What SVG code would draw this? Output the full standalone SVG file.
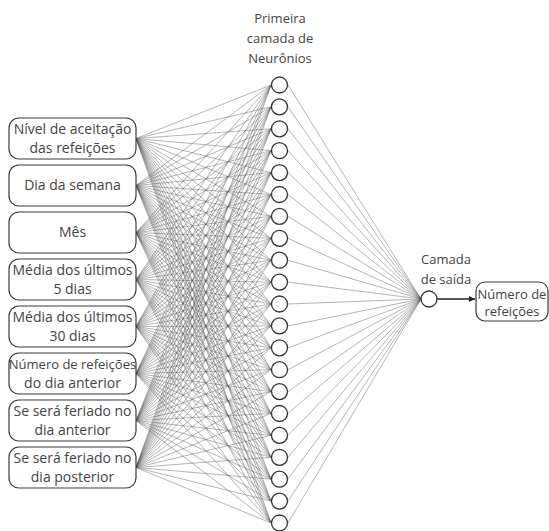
<svg xmlns="http://www.w3.org/2000/svg" width="549" height="531" viewBox="0 0 549 531">
<defs>
<style>
.box{fill:#fff;stroke:#3a3a3a;stroke-width:1.2}
.neu{fill:#fff;stroke:#333;stroke-width:1.3}
.t{font-family:"Open Sans","Noto Sans",sans-serif;font-size:13px;fill:#444;text-anchor:middle}
.b{font-size:14px}
.c line{stroke:#5a5a5a;stroke-width:0.45}
</style>
<marker id="ah" viewBox="0 0 10 10" refX="10" refY="5" markerWidth="8" markerHeight="6" markerUnits="userSpaceOnUse" orient="auto"><path d="M0,0 L10,5 L0,10 z" fill="#222"/></marker>
</defs>
<rect width="549" height="531" fill="#fff"/>
<g id="connectors" class="c">
<line x1="136" y1="138.5" x2="271" y2="85"/><line x1="136" y1="138.5" x2="271" y2="106.9"/><line x1="136" y1="138.5" x2="271" y2="128.8"/><line x1="136" y1="138.5" x2="271" y2="150.7"/><line x1="136" y1="138.5" x2="271" y2="172.6"/><line x1="136" y1="138.5" x2="271" y2="194.5"/><line x1="136" y1="138.5" x2="271" y2="216.4"/><line x1="136" y1="138.5" x2="271" y2="238.3"/><line x1="136" y1="138.5" x2="271" y2="260.2"/><line x1="136" y1="138.5" x2="271" y2="282.1"/><line x1="136" y1="138.5" x2="271" y2="304"/><line x1="136" y1="138.5" x2="271" y2="325.9"/><line x1="136" y1="138.5" x2="271" y2="347.8"/><line x1="136" y1="138.5" x2="271" y2="369.7"/><line x1="136" y1="138.5" x2="271" y2="391.6"/><line x1="136" y1="138.5" x2="271" y2="413.5"/><line x1="136" y1="138.5" x2="271" y2="435.4"/><line x1="136" y1="138.5" x2="271" y2="457.3"/><line x1="136" y1="138.5" x2="271" y2="479.2"/><line x1="136" y1="138.5" x2="271" y2="501.1"/><line x1="136" y1="138.5" x2="271" y2="523"/>
<line x1="136" y1="185.5" x2="271" y2="85"/><line x1="136" y1="185.5" x2="271" y2="106.9"/><line x1="136" y1="185.5" x2="271" y2="128.8"/><line x1="136" y1="185.5" x2="271" y2="150.7"/><line x1="136" y1="185.5" x2="271" y2="172.6"/><line x1="136" y1="185.5" x2="271" y2="194.5"/><line x1="136" y1="185.5" x2="271" y2="216.4"/><line x1="136" y1="185.5" x2="271" y2="238.3"/><line x1="136" y1="185.5" x2="271" y2="260.2"/><line x1="136" y1="185.5" x2="271" y2="282.1"/><line x1="136" y1="185.5" x2="271" y2="304"/><line x1="136" y1="185.5" x2="271" y2="325.9"/><line x1="136" y1="185.5" x2="271" y2="347.8"/><line x1="136" y1="185.5" x2="271" y2="369.7"/><line x1="136" y1="185.5" x2="271" y2="391.6"/><line x1="136" y1="185.5" x2="271" y2="413.5"/><line x1="136" y1="185.5" x2="271" y2="435.4"/><line x1="136" y1="185.5" x2="271" y2="457.3"/><line x1="136" y1="185.5" x2="271" y2="479.2"/><line x1="136" y1="185.5" x2="271" y2="501.1"/><line x1="136" y1="185.5" x2="271" y2="523"/>
<line x1="136" y1="232.5" x2="271" y2="85"/><line x1="136" y1="232.5" x2="271" y2="106.9"/><line x1="136" y1="232.5" x2="271" y2="128.8"/><line x1="136" y1="232.5" x2="271" y2="150.7"/><line x1="136" y1="232.5" x2="271" y2="172.6"/><line x1="136" y1="232.5" x2="271" y2="194.5"/><line x1="136" y1="232.5" x2="271" y2="216.4"/><line x1="136" y1="232.5" x2="271" y2="238.3"/><line x1="136" y1="232.5" x2="271" y2="260.2"/><line x1="136" y1="232.5" x2="271" y2="282.1"/><line x1="136" y1="232.5" x2="271" y2="304"/><line x1="136" y1="232.5" x2="271" y2="325.9"/><line x1="136" y1="232.5" x2="271" y2="347.8"/><line x1="136" y1="232.5" x2="271" y2="369.7"/><line x1="136" y1="232.5" x2="271" y2="391.6"/><line x1="136" y1="232.5" x2="271" y2="413.5"/><line x1="136" y1="232.5" x2="271" y2="435.4"/><line x1="136" y1="232.5" x2="271" y2="457.3"/><line x1="136" y1="232.5" x2="271" y2="479.2"/><line x1="136" y1="232.5" x2="271" y2="501.1"/><line x1="136" y1="232.5" x2="271" y2="523"/>
<line x1="136" y1="279.5" x2="271" y2="85"/><line x1="136" y1="279.5" x2="271" y2="106.9"/><line x1="136" y1="279.5" x2="271" y2="128.8"/><line x1="136" y1="279.5" x2="271" y2="150.7"/><line x1="136" y1="279.5" x2="271" y2="172.6"/><line x1="136" y1="279.5" x2="271" y2="194.5"/><line x1="136" y1="279.5" x2="271" y2="216.4"/><line x1="136" y1="279.5" x2="271" y2="238.3"/><line x1="136" y1="279.5" x2="271" y2="260.2"/><line x1="136" y1="279.5" x2="271" y2="282.1"/><line x1="136" y1="279.5" x2="271" y2="304"/><line x1="136" y1="279.5" x2="271" y2="325.9"/><line x1="136" y1="279.5" x2="271" y2="347.8"/><line x1="136" y1="279.5" x2="271" y2="369.7"/><line x1="136" y1="279.5" x2="271" y2="391.6"/><line x1="136" y1="279.5" x2="271" y2="413.5"/><line x1="136" y1="279.5" x2="271" y2="435.4"/><line x1="136" y1="279.5" x2="271" y2="457.3"/><line x1="136" y1="279.5" x2="271" y2="479.2"/><line x1="136" y1="279.5" x2="271" y2="501.1"/><line x1="136" y1="279.5" x2="271" y2="523"/>
<line x1="136" y1="326.5" x2="271" y2="85"/><line x1="136" y1="326.5" x2="271" y2="106.9"/><line x1="136" y1="326.5" x2="271" y2="128.8"/><line x1="136" y1="326.5" x2="271" y2="150.7"/><line x1="136" y1="326.5" x2="271" y2="172.6"/><line x1="136" y1="326.5" x2="271" y2="194.5"/><line x1="136" y1="326.5" x2="271" y2="216.4"/><line x1="136" y1="326.5" x2="271" y2="238.3"/><line x1="136" y1="326.5" x2="271" y2="260.2"/><line x1="136" y1="326.5" x2="271" y2="282.1"/><line x1="136" y1="326.5" x2="271" y2="304"/><line x1="136" y1="326.5" x2="271" y2="325.9"/><line x1="136" y1="326.5" x2="271" y2="347.8"/><line x1="136" y1="326.5" x2="271" y2="369.7"/><line x1="136" y1="326.5" x2="271" y2="391.6"/><line x1="136" y1="326.5" x2="271" y2="413.5"/><line x1="136" y1="326.5" x2="271" y2="435.4"/><line x1="136" y1="326.5" x2="271" y2="457.3"/><line x1="136" y1="326.5" x2="271" y2="479.2"/><line x1="136" y1="326.5" x2="271" y2="501.1"/><line x1="136" y1="326.5" x2="271" y2="523"/>
<line x1="136" y1="373.5" x2="271" y2="85"/><line x1="136" y1="373.5" x2="271" y2="106.9"/><line x1="136" y1="373.5" x2="271" y2="128.8"/><line x1="136" y1="373.5" x2="271" y2="150.7"/><line x1="136" y1="373.5" x2="271" y2="172.6"/><line x1="136" y1="373.5" x2="271" y2="194.5"/><line x1="136" y1="373.5" x2="271" y2="216.4"/><line x1="136" y1="373.5" x2="271" y2="238.3"/><line x1="136" y1="373.5" x2="271" y2="260.2"/><line x1="136" y1="373.5" x2="271" y2="282.1"/><line x1="136" y1="373.5" x2="271" y2="304"/><line x1="136" y1="373.5" x2="271" y2="325.9"/><line x1="136" y1="373.5" x2="271" y2="347.8"/><line x1="136" y1="373.5" x2="271" y2="369.7"/><line x1="136" y1="373.5" x2="271" y2="391.6"/><line x1="136" y1="373.5" x2="271" y2="413.5"/><line x1="136" y1="373.5" x2="271" y2="435.4"/><line x1="136" y1="373.5" x2="271" y2="457.3"/><line x1="136" y1="373.5" x2="271" y2="479.2"/><line x1="136" y1="373.5" x2="271" y2="501.1"/><line x1="136" y1="373.5" x2="271" y2="523"/>
<line x1="136" y1="420.5" x2="271" y2="85"/><line x1="136" y1="420.5" x2="271" y2="106.9"/><line x1="136" y1="420.5" x2="271" y2="128.8"/><line x1="136" y1="420.5" x2="271" y2="150.7"/><line x1="136" y1="420.5" x2="271" y2="172.6"/><line x1="136" y1="420.5" x2="271" y2="194.5"/><line x1="136" y1="420.5" x2="271" y2="216.4"/><line x1="136" y1="420.5" x2="271" y2="238.3"/><line x1="136" y1="420.5" x2="271" y2="260.2"/><line x1="136" y1="420.5" x2="271" y2="282.1"/><line x1="136" y1="420.5" x2="271" y2="304"/><line x1="136" y1="420.5" x2="271" y2="325.9"/><line x1="136" y1="420.5" x2="271" y2="347.8"/><line x1="136" y1="420.5" x2="271" y2="369.7"/><line x1="136" y1="420.5" x2="271" y2="391.6"/><line x1="136" y1="420.5" x2="271" y2="413.5"/><line x1="136" y1="420.5" x2="271" y2="435.4"/><line x1="136" y1="420.5" x2="271" y2="457.3"/><line x1="136" y1="420.5" x2="271" y2="479.2"/><line x1="136" y1="420.5" x2="271" y2="501.1"/><line x1="136" y1="420.5" x2="271" y2="523"/>
<line x1="136" y1="467.5" x2="271" y2="85"/><line x1="136" y1="467.5" x2="271" y2="106.9"/><line x1="136" y1="467.5" x2="271" y2="128.8"/><line x1="136" y1="467.5" x2="271" y2="150.7"/><line x1="136" y1="467.5" x2="271" y2="172.6"/><line x1="136" y1="467.5" x2="271" y2="194.5"/><line x1="136" y1="467.5" x2="271" y2="216.4"/><line x1="136" y1="467.5" x2="271" y2="238.3"/><line x1="136" y1="467.5" x2="271" y2="260.2"/><line x1="136" y1="467.5" x2="271" y2="282.1"/><line x1="136" y1="467.5" x2="271" y2="304"/><line x1="136" y1="467.5" x2="271" y2="325.9"/><line x1="136" y1="467.5" x2="271" y2="347.8"/><line x1="136" y1="467.5" x2="271" y2="369.7"/><line x1="136" y1="467.5" x2="271" y2="391.6"/><line x1="136" y1="467.5" x2="271" y2="413.5"/><line x1="136" y1="467.5" x2="271" y2="435.4"/><line x1="136" y1="467.5" x2="271" y2="457.3"/><line x1="136" y1="467.5" x2="271" y2="479.2"/><line x1="136" y1="467.5" x2="271" y2="501.1"/><line x1="136" y1="467.5" x2="271" y2="523"/>
<line x1="288" y1="85" x2="421" y2="299"/><line x1="288" y1="106.9" x2="421" y2="299"/><line x1="288" y1="128.8" x2="421" y2="299"/><line x1="288" y1="150.7" x2="421" y2="299"/><line x1="288" y1="172.6" x2="421" y2="299"/><line x1="288" y1="194.5" x2="421" y2="299"/><line x1="288" y1="216.4" x2="421" y2="299"/><line x1="288" y1="238.3" x2="421" y2="299"/><line x1="288" y1="260.2" x2="421" y2="299"/><line x1="288" y1="282.1" x2="421" y2="299"/><line x1="288" y1="304" x2="421" y2="299"/><line x1="288" y1="325.9" x2="421" y2="299"/><line x1="288" y1="347.8" x2="421" y2="299"/><line x1="288" y1="369.7" x2="421" y2="299"/><line x1="288" y1="391.6" x2="421" y2="299"/><line x1="288" y1="413.5" x2="421" y2="299"/><line x1="288" y1="435.4" x2="421" y2="299"/><line x1="288" y1="457.3" x2="421" y2="299"/><line x1="288" y1="479.2" x2="421" y2="299"/><line x1="288" y1="501.1" x2="421" y2="299"/><line x1="288" y1="523" x2="421" y2="299"/>
<line x1="437" y1="299" x2="475" y2="299" marker-end="url(#ah)" style="stroke:#222;stroke-width:1.3"/>
</g>
<g id="in1"><rect class="box" x="9" y="118" width="127" height="41" rx="10"/><text class="t b" x="72.5" y="134">Nível de aceitação</text><text class="t b" x="72.5" y="153">das refeições</text></g>
<g id="in2"><rect class="box" x="9" y="165" width="127" height="41" rx="10"/><text class="t b" x="72.5" y="190">Dia da semana</text></g>
<g id="in3"><rect class="box" x="9" y="212" width="127" height="41" rx="10"/><text class="t b" x="72.5" y="237">Mês</text></g>
<g id="in4"><rect class="box" x="9" y="259" width="127" height="41" rx="10"/><text class="t b" x="72.5" y="275">Média dos últimos</text><text class="t b" x="72.5" y="294">5 dias</text></g>
<g id="in5"><rect class="box" x="9" y="306" width="127" height="41" rx="10"/><text class="t b" x="72.5" y="322">Média dos últimos</text><text class="t b" x="72.5" y="341">30 dias</text></g>
<g id="in6"><rect class="box" x="9" y="353" width="127" height="41" rx="10"/><text class="t" x="72.5" y="369">Número de refeições</text><text class="t b" x="72.5" y="388">do dia anterior</text></g>
<g id="in7"><rect class="box" x="9" y="400" width="127" height="41" rx="10"/><text class="t b" x="72.5" y="416">Se será feriado no</text><text class="t b" x="72.5" y="435">dia anterior</text></g>
<g id="in8"><rect class="box" x="9" y="447" width="127" height="41" rx="10"/><text class="t b" x="72.5" y="463">Se será feriado no</text><text class="t b" x="72.5" y="482">dia posterior</text></g>
<g id="hidden-label"><text class="t" x="280" y="23">Primeira</text><text class="t" x="280" y="43">camada de</text><text class="t" x="280" y="63">Neurônios</text></g>
<g id="hidden">
<circle class="neu" cx="279.5" cy="85" r="8"/><circle class="neu" cx="279.5" cy="106.9" r="8"/><circle class="neu" cx="279.5" cy="128.8" r="8"/><circle class="neu" cx="279.5" cy="150.7" r="8"/><circle class="neu" cx="279.5" cy="172.6" r="8"/><circle class="neu" cx="279.5" cy="194.5" r="8"/><circle class="neu" cx="279.5" cy="216.4" r="8"/><circle class="neu" cx="279.5" cy="238.3" r="8"/><circle class="neu" cx="279.5" cy="260.2" r="8"/><circle class="neu" cx="279.5" cy="282.1" r="8"/><circle class="neu" cx="279.5" cy="304" r="8"/><circle class="neu" cx="279.5" cy="325.9" r="8"/><circle class="neu" cx="279.5" cy="347.8" r="8"/><circle class="neu" cx="279.5" cy="369.7" r="8"/><circle class="neu" cx="279.5" cy="391.6" r="8"/><circle class="neu" cx="279.5" cy="413.5" r="8"/><circle class="neu" cx="279.5" cy="435.4" r="8"/><circle class="neu" cx="279.5" cy="457.3" r="8"/><circle class="neu" cx="279.5" cy="479.2" r="8"/><circle class="neu" cx="279.5" cy="501.1" r="8"/><circle class="neu" cx="279.5" cy="523" r="8"/>
</g>
<g id="output-label"><text class="t" x="446" y="264">Camada</text><text class="t" x="446" y="284">de saída</text></g>
<g id="output"><circle class="neu" cx="429" cy="299" r="8"/></g>
<g id="result"><rect class="box" x="476" y="282" width="72" height="39" rx="9"/><text class="t" x="512" y="299">Número de</text><text class="t" x="512" y="316">refeições</text></g>
</svg>
